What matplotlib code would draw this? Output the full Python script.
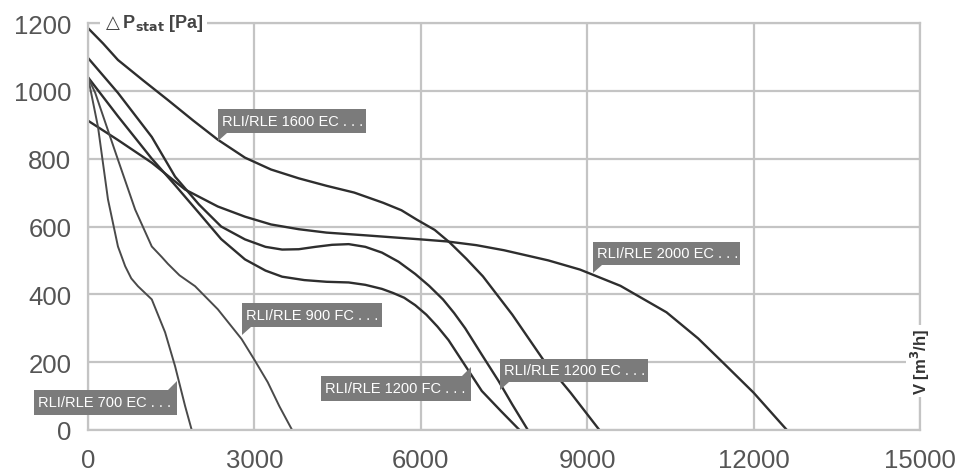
import matplotlib
matplotlib.use('Agg')
import matplotlib.pyplot as plt
from matplotlib.patches import Polygon

plt.rcParams['font.family'] = ['Liberation Sans', 'DejaVu Sans']

# Kennlinien (Volumenstrom m3/h, statischer Druck Pa)
x_1600 = [0, 270, 540, 1000, 1440, 1900, 2340, 2830, 3300, 3800, 4300, 4800, 5320, 5650, 5930, 6250, 6520, 6820, 7120, 7650, 8200, 8700, 9220]
y_1600 = [1185, 1140, 1091, 1030, 973, 912, 856, 803, 768, 742, 720, 700, 670, 648, 620, 590, 553, 505, 453, 340, 209, 110, 0]

x_2000 = [0, 540, 1150, 1750, 2340, 2830, 3300, 3800, 4300, 5000, 5500, 6000, 6470, 7000, 7500, 8300, 8870, 9600, 10430, 11000, 11440, 12000, 12600]
y_2000 = [912, 855, 788, 709, 659, 629, 606, 592, 582, 574, 568, 562, 556, 545, 530, 500, 473, 425, 347, 270, 200, 110, 0]

x_1200ec = [0, 540, 1150, 1570, 2000, 2400, 2830, 3200, 3500, 3800, 4100, 4400, 4700, 5000, 5300, 5600, 5900, 6150, 6400, 6600, 6800, 7100, 7400, 7650, 7930]
y_1200ec = [1097, 994, 864, 747, 665, 600, 562, 540, 532, 533, 540, 546, 548, 540, 523, 496, 460, 425, 385, 345, 300, 222, 145, 75, 0]

x_1200fc = [0, 540, 1150, 1570, 2000, 2400, 2830, 3200, 3500, 3900, 4300, 4700, 5000, 5300, 5500, 5700, 5900, 6100, 6300, 6500, 6800, 7100, 7450, 7780]
y_1200fc = [1040, 925, 800, 722, 640, 563, 503, 470, 452, 442, 437, 435, 428, 416, 404, 390, 368, 340, 305, 265, 190, 115, 55, 0]

x_900 = [0, 130, 540, 850, 1150, 1330, 1440, 1650, 1930, 2340, 2770, 3000, 3240, 3450, 3680]
y_900 = [1040, 994, 797, 650, 541, 510, 490, 456, 424, 356, 268, 207, 141, 70, 0]

x_700 = [0, 180, 360, 540, 670, 780, 900, 1150, 1390, 1570, 1750, 1870]
y_700 = [1040, 894, 680, 541, 483, 447, 424, 385, 288, 188, 71, 0]

# Beschriftungen: Text, Box (links, oben, rechts, unten in Pixel), Richtung des Zeigers
labels = [
    ('RLI/RLE 1600 EC . . .', (218, 110, 366, 134), 'down'),
    ('RLI/RLE 2000 EC . . .', (593, 243, 740, 266), 'down'),
    ('RLI/RLE 900 FC . . .', (242, 304, 382, 328), 'down'),
    ('RLI/RLE 1200 EC . . .', (500, 360, 648, 383), 'down'),
    ('RLI/RLE 1200 FC . . .', (321, 377, 471, 402), 'up'),
    ('RLI/RLE 700 EC . . .', (34, 391, 177, 416), 'up'),
]

W, H = 959, 477
fig = plt.figure(figsize=(W / 100, H / 100), dpi=100)
ax = fig.add_axes([88 / W, 1 - 431 / H, (920 - 88) / W, (431 - 24) / H])

grid_c = '#c4c4c4'
ax.set_xlim(0, 15000)
ax.set_ylim(0, 1200)
ax.set_xticks(range(0, 15001, 3000))
ax.set_yticks(range(0, 1201, 200))
ax.grid(True, color=grid_c, linewidth=1.6)
for s in ax.spines.values():
    s.set_color(grid_c)
    s.set_linewidth(1.6)
ax.tick_params(length=0, labelsize=18.5, labelcolor='#555555')
ax.tick_params(axis='x', pad=13)
ax.tick_params(axis='y', pad=12)

curve_c = '#2e2e2e'
ax.plot(x_1600, y_1600, color=curve_c, lw=1.7)
ax.plot(x_2000, y_2000, color=curve_c, lw=1.7)
ax.plot(x_1200ec, y_1200ec, color=curve_c, lw=1.7)
ax.plot(x_1200fc, y_1200fc, color=curve_c, lw=1.7)
ax.plot(x_900, y_900, color='#4a4a4a', lw=1.4)
ax.plot(x_700, y_700, color='#4a4a4a', lw=1.4)

ax.text(260, 1200, r'$\triangle$P$_{\mathbf{stat}}$ [Pa]', fontsize=13, fontweight='bold',
        color='#444444', ha='left', va='center',
        bbox=dict(facecolor='white', edgecolor='none', pad=2))
ax.text(15000, 203, r'V [m$^{\mathbf{3}}$/h]', fontsize=12, fontweight='bold', color='#333333',
        rotation=90, ha='center', va='center',
        bbox=dict(facecolor='white', edgecolor='none', pad=2))

box_c = '#7b7b7b'
for txt, (l, t, r, b), ptr in labels:
    # Pixelkoordinaten (Ursprung oben links) in Figurkoordinaten umrechnen
    yl, yt = H - b, H - t
    fig.patches.append(Polygon([(l / W, yl / H), (r / W, yl / H), (r / W, yt / H), (l / W, yt / H)],
                               closed=True, facecolor=box_c, edgecolor='none',
                               transform=fig.transFigure, figure=fig))
    if ptr == 'down':
        tri = [(l, yl), (l, yl - 8), (l + 9, yl)]
    else:
        tri = [(r, yt), (r, yt + 9), (r - 9, yt)]
    fig.patches.append(Polygon([(px / W, py / H) for px, py in tri], closed=True,
                               facecolor=box_c, edgecolor='none',
                               transform=fig.transFigure, figure=fig))
    fig.text((l + 4) / W, (yl + yt) / 2 / H, txt, color='white', fontsize=10.5,
             ha='left', va='center')

fig.savefig('out.png', dpi=100)
